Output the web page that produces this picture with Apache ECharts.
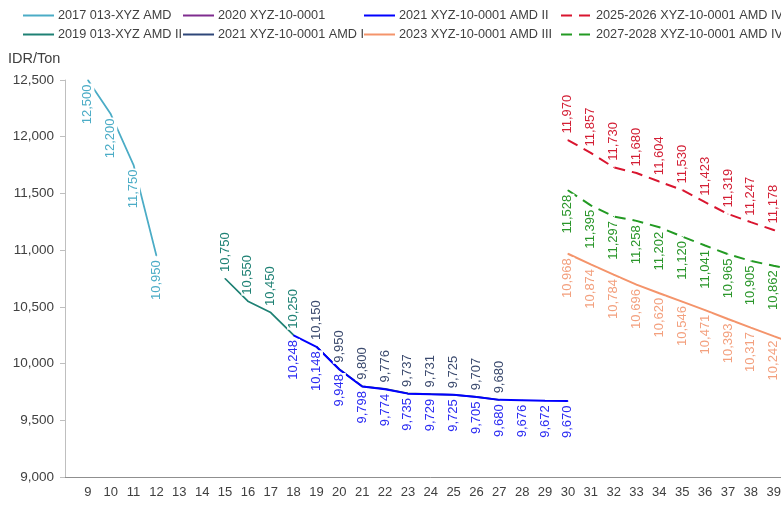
<!DOCTYPE html>
<html><head><meta charset="utf-8">
<script src="https://cdn.jsdelivr.net/npm/echarts@6/dist/echarts.min.js"></script>
<style>html,body{margin:0;padding:0;width:781px;height:523px;overflow:hidden;background:#fff}
#c{width:840px;height:523px}</style></head>
<body><div id="c"></div>
<script>
// x categories (first one is an empty slot at the axis origin)
const categories = ['', '9','10','11','12','13','14','15','16','17','18','19','20','21','22','23','24','25','26','27','28','29','30','31','32','33','34','35','36','37','38','39','40'];
const yTicks = { min: 9000, max: 12500, step: 500 };

const x2017 = ['9','10','11','12'];
const v2017 = [12500, 12200, 11750, 10950];
const x2019 = ['15','16','17','18'];
const v2019 = [10750, 10550, 10450, 10250];
const x2020 = [];
const v2020 = [];
const x2021a = ['19','20','21','22','23','24','25','26','27'];
const v2021a = [10150, 9950, 9800, 9776, 9737, 9731, 9725, 9707, 9680];
const x2021b = ['18','19','20','21','22','23','24','25','26','27','28','29','30'];
const v2021b = [10248, 10148, 9948, 9798, 9774, 9735, 9729, 9725, 9705, 9680, 9676, 9672, 9670];
const x2023 = ['30','31','32','33','34','35','36','37','38','39','40'];
const v2023 = [10968, 10874, 10784, 10696, 10620, 10546, 10471, 10393, 10317, 10242, 10168];
const x2025 = ['30','31','32','33','34','35','36','37','38','39','40'];
const v2025 = [11970, 11857, 11730, 11680, 11604, 11530, 11423, 11319, 11247, 11178, 11110];
const x2027 = ['30','31','32','33','34','35','36','37','38','39','40'];
const v2027 = [11528, 11395, 11297, 11258, 11202, 11120, 11041, 10965, 10905, 10862, 10820];

const names = {
  s2017: '2017 013-XYZ AMD', s2019: '2019 013-XYZ AMD II', s2020: '2020 XYZ-10-0001',
  s2021a: '2021 XYZ-10-0001 AMD I', s2021b: '2021 XYZ-10-0001 AMD II', s2023: '2023 XYZ-10-0001 AMD III',
  s2025: '2025-2026 XYZ-10-0001 AMD IV', s2027: '2027-2028 XYZ-10-0001 AMD IV'
};

const FONT = 'Liberation Sans';
const fmt = v => Number(v).toLocaleString('en-US');
const pairs = (xs, vs) => xs.map((x, i) => [x, vs[i]]);

function mk(name, xs, vs, color, labelColor, where, width, dash) {
  const above = where === 'above';
  return {
    name, type: 'line', data: pairs(xs, vs),
    symbol: 'circle', symbolSize: 1, showSymbol: true,
    itemStyle: { color },
    lineStyle: { color, width, type: dash || 'solid' },
    emphasis: { disabled: true },
    label: {
      show: true, position: above ? 'top' : 'bottom', distance: above ? 5 : 3,
      rotate: 90, align: above ? 'left' : 'right', verticalAlign: 'middle',
      color: labelColor, fontFamily: FONT, fontSize: 13,
      backgroundColor: '#ffffff', padding: [0, 1],
      formatter: p => fmt(p.value[1])
    }
  };
}

const series = [
  mk(names.s2017, x2017, v2017, '#4BACC6', '#4BACC6', 'below', 1.75),
  mk(names.s2019, x2019, v2019, '#1E8174', '#1E8174', 'above', 1.75),
  mk(names.s2020, x2020, v2020, '#7F2C8F', '#7F2C8F', 'above', 1.75),
  mk(names.s2021a, x2021a, v2021a, '#2E4679', '#3B4A6E', 'above', 1.75),
  mk(names.s2021b, x2021b, v2021b, '#0000FF', '#2B2BF2', 'below', 2),
  mk(names.s2023, x2023, v2023, '#F4946B', '#F3A07E', 'below', 2),
  mk(names.s2025, x2025, v2025, '#D9152F', '#D31F35', 'above', 2, [11, 7]),
  mk(names.s2027, x2027, v2027, '#239A23', '#2A962A', 'below', 2, [11, 7])
];

function leg(left, data) {
  return {
    orient: 'vertical', left, top: 9, padding: 0, itemWidth: 31, itemHeight: 14, itemGap: 6,
    data, selectedMode: false, itemStyle: { opacity: 0 },
    textStyle: { fontFamily: FONT, fontSize: 12.7, color: '#404040', padding: [0, 0, 0, -1] }
  };
}

const chart = echarts.init(document.getElementById('c'), null, { renderer: 'canvas' });
chart.setOption({
  animation: false,
  backgroundColor: '#ffffff',
  title: { text: 'IDR/Ton', left: 8, top: 51, padding: 0, textStyle: { fontFamily: FONT, fontSize: 14.5, fontWeight: 'normal', color: '#404040' } },
  legend: [
    leg(22, [names.s2017, names.s2019]),
    leg(182, [names.s2020, names.s2021a]),
    leg(363, [names.s2021b, names.s2023]),
    leg(560, [names.s2025, names.s2027])
  ],
  grid: { left: 65, top: 80, height: 397, width: 731.5, containLabel: false },
  xAxis: {
    type: 'category', data: categories, boundaryGap: false,
    axisLine: { show: true, lineStyle: { color: '#8f8f8f', width: 1 } },
    axisTick: { show: false },
    axisLabel: { interval: 0, margin: 9, fontFamily: FONT, fontSize: 13, color: '#404040' },
    splitLine: { show: false }
  },
  yAxis: {
    type: 'value', min: yTicks.min, max: yTicks.max, interval: yTicks.step,
    axisLine: { show: true, lineStyle: { color: '#bfbfbf', width: 1 } },
    axisTick: { show: true, length: 5, lineStyle: { color: '#bfbfbf' } },
    axisLabel: { margin: 11, fontFamily: FONT, fontSize: 13.5, color: '#404040', formatter: v => fmt(v) },
    splitLine: { show: false }
  },
  series
});
</script></body></html>
